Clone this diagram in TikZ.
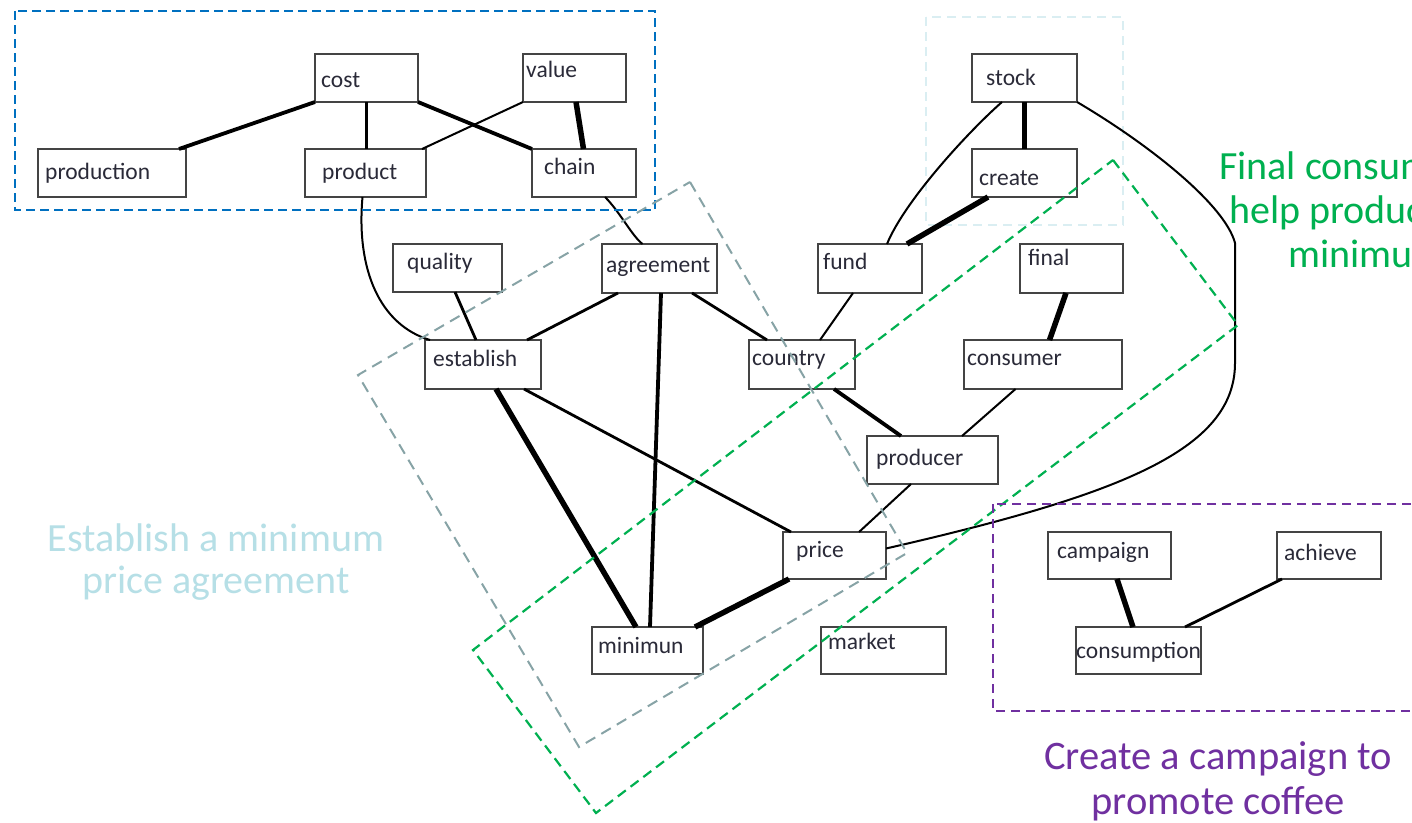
\documentclass[tikz,border=0pt]{standalone}
\usepackage{fontspec}
\setmainfont{Carlito}
\definecolor{frameblue}{HTML}{0070C0}
\definecolor{framegreen}{HTML}{00B050}
\definecolor{framepurple}{HTML}{7030A0}
\definecolor{framegray}{HTML}{87A3A6}
\definecolor{framecyan}{HTML}{DAEEF2}
\definecolor{textcyan}{HTML}{B6DFE6}
\definecolor{boxline}{HTML}{444444}
\definecolor{boxtext}{HTML}{2A2A38}

% keyword box: name, x1, y1, x2, y2, text, text x, text mid y
\newcommand\kwnode[8]{%
  \node[kwbox, minimum width={(#4)-(#2)}, minimum height={(#5)-(#3)},
        label={[kwtext, xshift={(#7)-(#2)}, yshift={((#3)+(#5))/2-(#8)-4.5}]west:#6}]
        (#1) at (#2,#3) {};}

\begin{document}
\begin{tikzpicture}[x=1pt,y=-1pt,
  kwbox/.style={draw=boxline, line width=1.9pt, fill=white, inner sep=0pt,
                outer sep=0pt, anchor=north west},
  kwtext/.style={inner sep=0pt, text=boxtext, anchor=mid west,
                 font=\fontsize{23.5}{26}\selectfont},
  thin link/.style={draw=black, line width=2pt},
  mid link/.style={draw=black, line width=2.8pt},
  thick link/.style={draw=black, line width=3.8pt},
  heavy link/.style={draw=black, line width=5.5pt},
  frame/.style={line width=2.2pt},
  biglabel/.style={inner sep=0pt, align=center},
]
\useasboundingbox (0,0) rectangle (1412,822);
\clip (0,0) rectangle (1412,822);

% faint frame round the stock group, lying under everything else
\draw[framecyan, line width=1.5pt, dash pattern=on 9pt off 6pt] (926,17) rectangle (1123,225);

% keyword boxes
\kwnode{cost}{315}{54}{418}{102}{cost}{321}{81}
\kwnode{value}{523}{54}{626}{102}{value}{526}{71}
\kwnode{production}{38}{149}{186}{197}{production}{45}{173}
\kwnode{product}{305}{149}{426}{197}{product}{322}{173}
\kwnode{chain}{532}{149}{636}{197}{chain}{544}{168}
\kwnode{stock}{972}{54}{1077}{102}{stock}{986}{79}
\kwnode{create}{972}{149}{1077}{197}{create}{979}{179}
\kwnode{quality}{393}{244}{502}{292}{quality}{407}{263}
\kwnode{agreement}{602}{244}{717}{293}{agreement}{606}{266}
\kwnode{fund}{818}{244}{922}{293}{fund}{823}{263}
\kwnode{final}{1020}{244}{1123}{293}{final}{1028}{259}
\kwnode{establish}{425}{340}{541}{389}{establish}{433}{360}
\kwnode{country}{749}{340}{855}{389}{country}{752}{359}
\kwnode{consumer}{964}{340}{1122}{389}{consumer}{967}{359}
\kwnode{producer}{867}{436}{998}{484}{producer}{876}{459}
\kwnode{price}{783}{532}{886}{579}{price}{796}{551}
\kwnode{minimun}{592}{627}{703}{674}{minimun}{598}{647}
\kwnode{market}{821}{627}{946}{674}{market}{828}{643}
\kwnode{campaign}{1048}{532}{1171}{579}{campaign}{1057}{552}
\kwnode{achieve}{1277}{532}{1381}{579}{achieve}{1284}{554}
\kwnode{consumption}{1076}{627}{1201}{674}{consumption}{1076}{652}

% bends of the long stock--price link
\coordinate (loopA) at (1235,243);
\coordinate (loopB) at (1235,363);

% links
\draw[thick link] (cost.south west) -- ([xshift=-7]production.north east);
\draw[mid link] (cost.south) -- (cost.south |- product.north);
\draw[thick link] (cost.south east) -- (chain.north west);
\draw[thin link] (value.south west) -- ([xshift=-4]product.north east);
\draw[heavy link] ([xshift=1.5]value.south) -- ([xshift=-0.5]chain.north);
\draw[thin link] ([xshift=-3]product.south) .. controls (356,270) and (380,325) .. ([xshift=5]establish.north west);
\draw[thin link] ([xshift=21]chain.south) .. controls (620,212) and (632,236) .. ([xshift=-17]agreement.north);
\draw[mid link] ([xshift=7.5]quality.south) -- ([xshift=-7]establish.north);
\draw[mid link] ([xshift=16]agreement.south west) -- ([xshift=-14]establish.north east);
\draw[thick link] ([xshift=1.5]agreement.south) -- ([xshift=2.5]minimun.north);
\draw[mid link] ([xshift=-25]agreement.south east) -- ([xshift=18]country.north west);
\draw[heavy link] ([xshift=13]establish.south) -- ([xshift=-11.5]minimun.north);
\draw[mid link] ([xshift=-17]establish.south east) -- ([xshift=8]price.north west);
\draw[heavy link] ([xshift=6]price.south west) -- ([xshift=-8]minimun.north east);
\draw[thin link] ([xshift=-27]price.north east) -- ([xshift=-21.5]producer.south);
\draw[thin link] (stock.south east) .. controls (1150,145) and (1225,205) .. (loopA)
  -- (loopB) .. controls (1235,450) and (1120,495) .. ([yshift=7]price.east);
\draw[heavy link] (stock.south) -- (create.north);
\draw[thin link] ([xshift=30]stock.south west) .. controls (970,130) and (905,200) .. ([xshift=-35]fund.north east);
\draw[heavy link] ([xshift=16]create.south west) -- ([xshift=-15]fund.north east);
\draw[thin link] ([xshift=-17]fund.south) -- ([xshift=18]country.north);
\draw[thick link] ([xshift=-21]country.south east) -- ([xshift=34]producer.north west);
\draw[thin link] ([xshift=-27.5]consumer.south) -- ([xshift=-36]producer.north east);
\draw[heavy link] ([xshift=-5.5]final.south) -- ([xshift=6.5]consumer.north);
\draw[heavy link] ([xshift=7.5]campaign.south) -- ([xshift=-5.5]consumption.north);
\draw[mid link] ([xshift=5]achieve.south west) -- ([xshift=-16]consumption.north east);

% topic frames
\draw[frame, frameblue, dash pattern=on 9pt off 5pt] (15,11) rectangle (655,210);
\draw[frame, framegray, line width=2pt, dash pattern=on 11pt off 7pt]
  (690,182) -- (907,553) -- (579,747) -- (358,375) -- cycle;
\draw[frame, framegreen, dash pattern=on 10pt off 6pt]
  (1113,160) -- (1238,325) -- (596,813) -- (473,650) -- cycle;
\draw[frame, framepurple, dash pattern=on 9pt off 6pt] (993,504) rectangle (1430,711);

% topic captions
\node[biglabel, text=textcyan, font=\fontsize{40}{42}\selectfont] (capprice) at (216,562)
  {Establish a minimum\\price agreement};
\node[biglabel, text=framepurple, font=\fontsize{40.5}{45}\selectfont] (capcampaign) at (1218,781)
  {Create a campaign to\\promote coffee};
\node[inner sep=0pt, align=left, anchor=north west, text=framegreen,
      font=\fontsize{40}{44}\selectfont] (capfinal) at (1219,152)
  {Final consum\\\hspace*{10pt}help produc\\\hspace*{69pt}minimu};
\end{tikzpicture}
\end{document}
